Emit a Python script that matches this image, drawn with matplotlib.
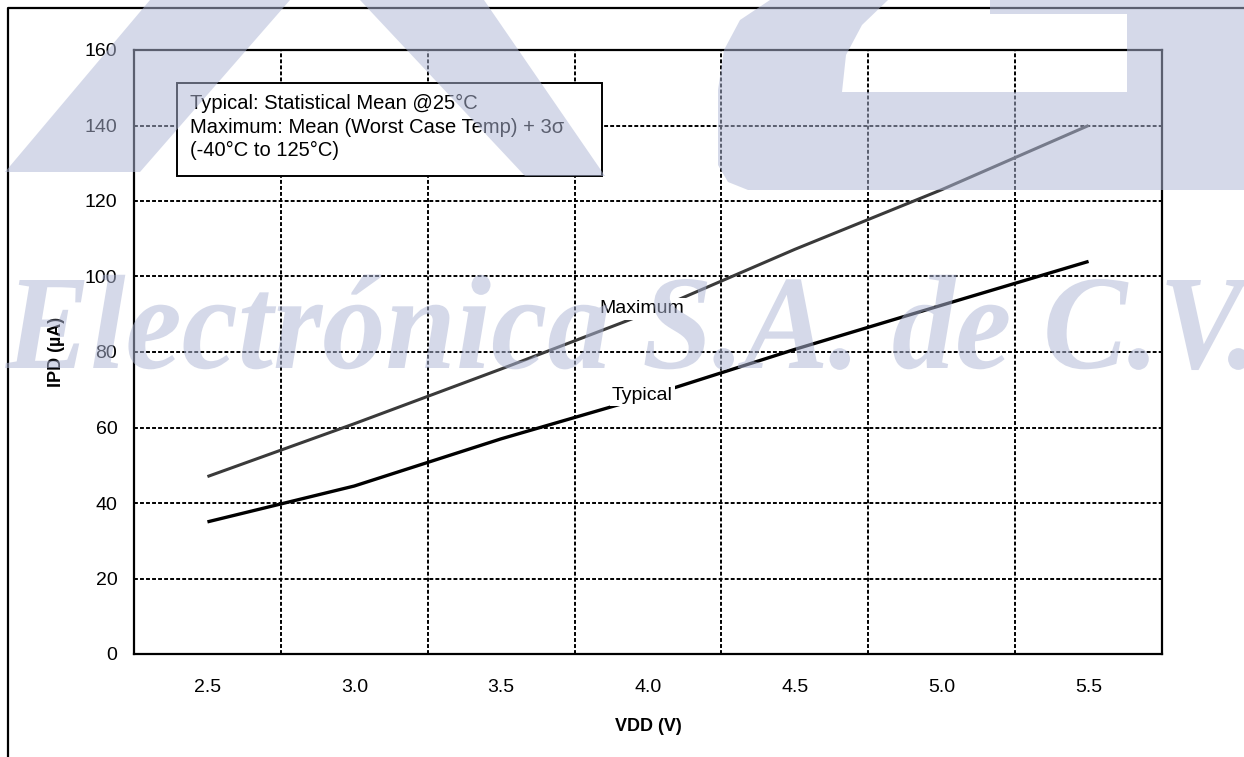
import matplotlib
matplotlib.use("Agg")
import matplotlib.pyplot as plt
from matplotlib.patches import Polygon, Rectangle, PathPatch
from matplotlib.lines import Line2D
from matplotlib.textpath import TextPath
from matplotlib.font_manager import FontProperties
from matplotlib.transforms import Affine2D

plt.rcParams["font.family"] = ["Liberation Sans", "DejaVu Sans"]

# ── Data ─────────────────────────────────────────────────────────────────────
vdd = [2.5, 3.0, 3.5, 4.0, 4.5, 5.0, 5.5]
ipd_max = [47.0, 61.0, 75.5, 90.4, 107.2, 123.0, 140.0]
ipd_typ = [35.0, 44.5, 57.0, 68.3, 80.7, 92.4, 104.0]
x_ticks = [2.5, 3.0, 3.5, 4.0, 4.5, 5.0, 5.5]
x_grid = [2.75, 3.25, 3.75, 4.25, 4.75, 5.25]
y_ticks = [0, 20, 40, 60, 80, 100, 120, 140, 160]
note_lines = [
    "Typical: Statistical Mean @25°C",
    "Maximum: Mean (Worst Case Temp) + 3σ",
    "(-40°C to 125°C)",
]

W, H = 1244, 757
fig = plt.figure(figsize=(W / 100, H / 100), dpi=100)
fig.patch.set_facecolor("white")

ax = fig.add_axes([134 / W, (H - 654) / H, (1162 - 134) / W, (654 - 50) / H])
ax.set_xlim(2.25, 5.75)
ax.set_ylim(0, 160)

# grid (Excel style: verticals between categories)
grid_kw = dict(color="black", linewidth=1.4, linestyle=(0, (2, 1.1)), zorder=1)
for gy in y_ticks[1:-1]:
    ax.axhline(gy, **grid_kw)
for gx in x_grid:
    ax.axvline(gx, **grid_kw)

ax.plot(vdd, ipd_max, color="#3a3a3a", linewidth=2.2, zorder=3, solid_capstyle="butt")
ax.plot(vdd, ipd_typ, color="black", linewidth=2.4, zorder=3, solid_capstyle="butt")

lbl_kw = dict(fontsize=14, ha="center", va="center", zorder=4,
              bbox=dict(facecolor="white", edgecolor="none", pad=1.5))
ax.text(3.98, 91.4, "Maximum", **lbl_kw)
ax.text(3.98, 68.6, "Typical", **lbl_kw)

# note box
ax.add_patch(Rectangle((0.0418, 0.791), 0.4135, 0.154, transform=ax.transAxes,
                       facecolor="white", edgecolor="black", linewidth=1.4, zorder=5))
for i, line in enumerate(note_lines):
    ax.text(0.0545, 0.912 - i * 0.0395, line, transform=ax.transAxes,
            fontsize=14.5, ha="left", va="center", zorder=6)

ax.set_xticks(x_ticks)
ax.set_xticklabels([f"{v:.1f}" for v in x_ticks])
ax.set_yticks(y_ticks)
ax.tick_params(length=0, labelsize=14, colors="black")
ax.tick_params(axis="y", pad=12)
ax.tick_params(axis="x", pad=18)
for sp in ax.spines.values():
    sp.set_linewidth(1.6)
    sp.set_color("black")

ax.set_xlabel("VDD (V)", fontsize=13, fontweight="bold", labelpad=16)
ax.set_ylabel("IPD (µA)", fontsize=13, fontweight="bold", labelpad=14)

# outer page frame
fx, fy = 8 / W, 1 - 8 / H
fig.add_artist(Line2D([fx, fx, 1.0], [0.0, fy, fy], transform=fig.transFigure,
                      color="black", linewidth=1.6))

# ── Watermark (semi-transparent overlay, image pixel coords) ─────────────────
wm_color = "#afb7d6"
wm_alpha = 0.52
pix = Affine2D().scale(1, -1).translate(0, H)

logo_shapes = [
    [(150, 0), (290, 0), (140, 172), (5, 172)],
    [(360, 0), (484, 0), (605, 176), (525, 176)],
    [(770, 0), (740, 20), (724, 50), (718, 90), (718, 165), (728, 182),
     (748, 190), (1244, 190), (1244, 0), (990, 0), (990, 14), (1127, 14),
     (1127, 92), (842, 92), (846, 55), (862, 25), (888, 0)],
]
for pts in logo_shapes:
    fig.add_artist(Polygon(pts, closed=True, transform=pix, facecolor=wm_color,
                           edgecolor="none", alpha=wm_alpha, zorder=10))

fp = FontProperties(family="Liberation Serif", weight="bold", style="italic")
tp = TextPath((0, 0), "Electrónica S.A. de C.V.", size=100, prop=fp)
ext = tp.get_extents()
cap = TextPath((0, 0), "E", size=100, prop=fp).get_extents().height
sx = (1252 - 5) / ext.width
sy = 88 / cap
wm_tr = Affine2D().translate(-ext.x0, 0).scale(sx, sy).translate(5, H - 368)
fig.add_artist(PathPatch(tp, transform=wm_tr, facecolor=wm_color,
                         edgecolor="none", alpha=wm_alpha, zorder=10))

fig.savefig("out.png", dpi=100, facecolor="white")
